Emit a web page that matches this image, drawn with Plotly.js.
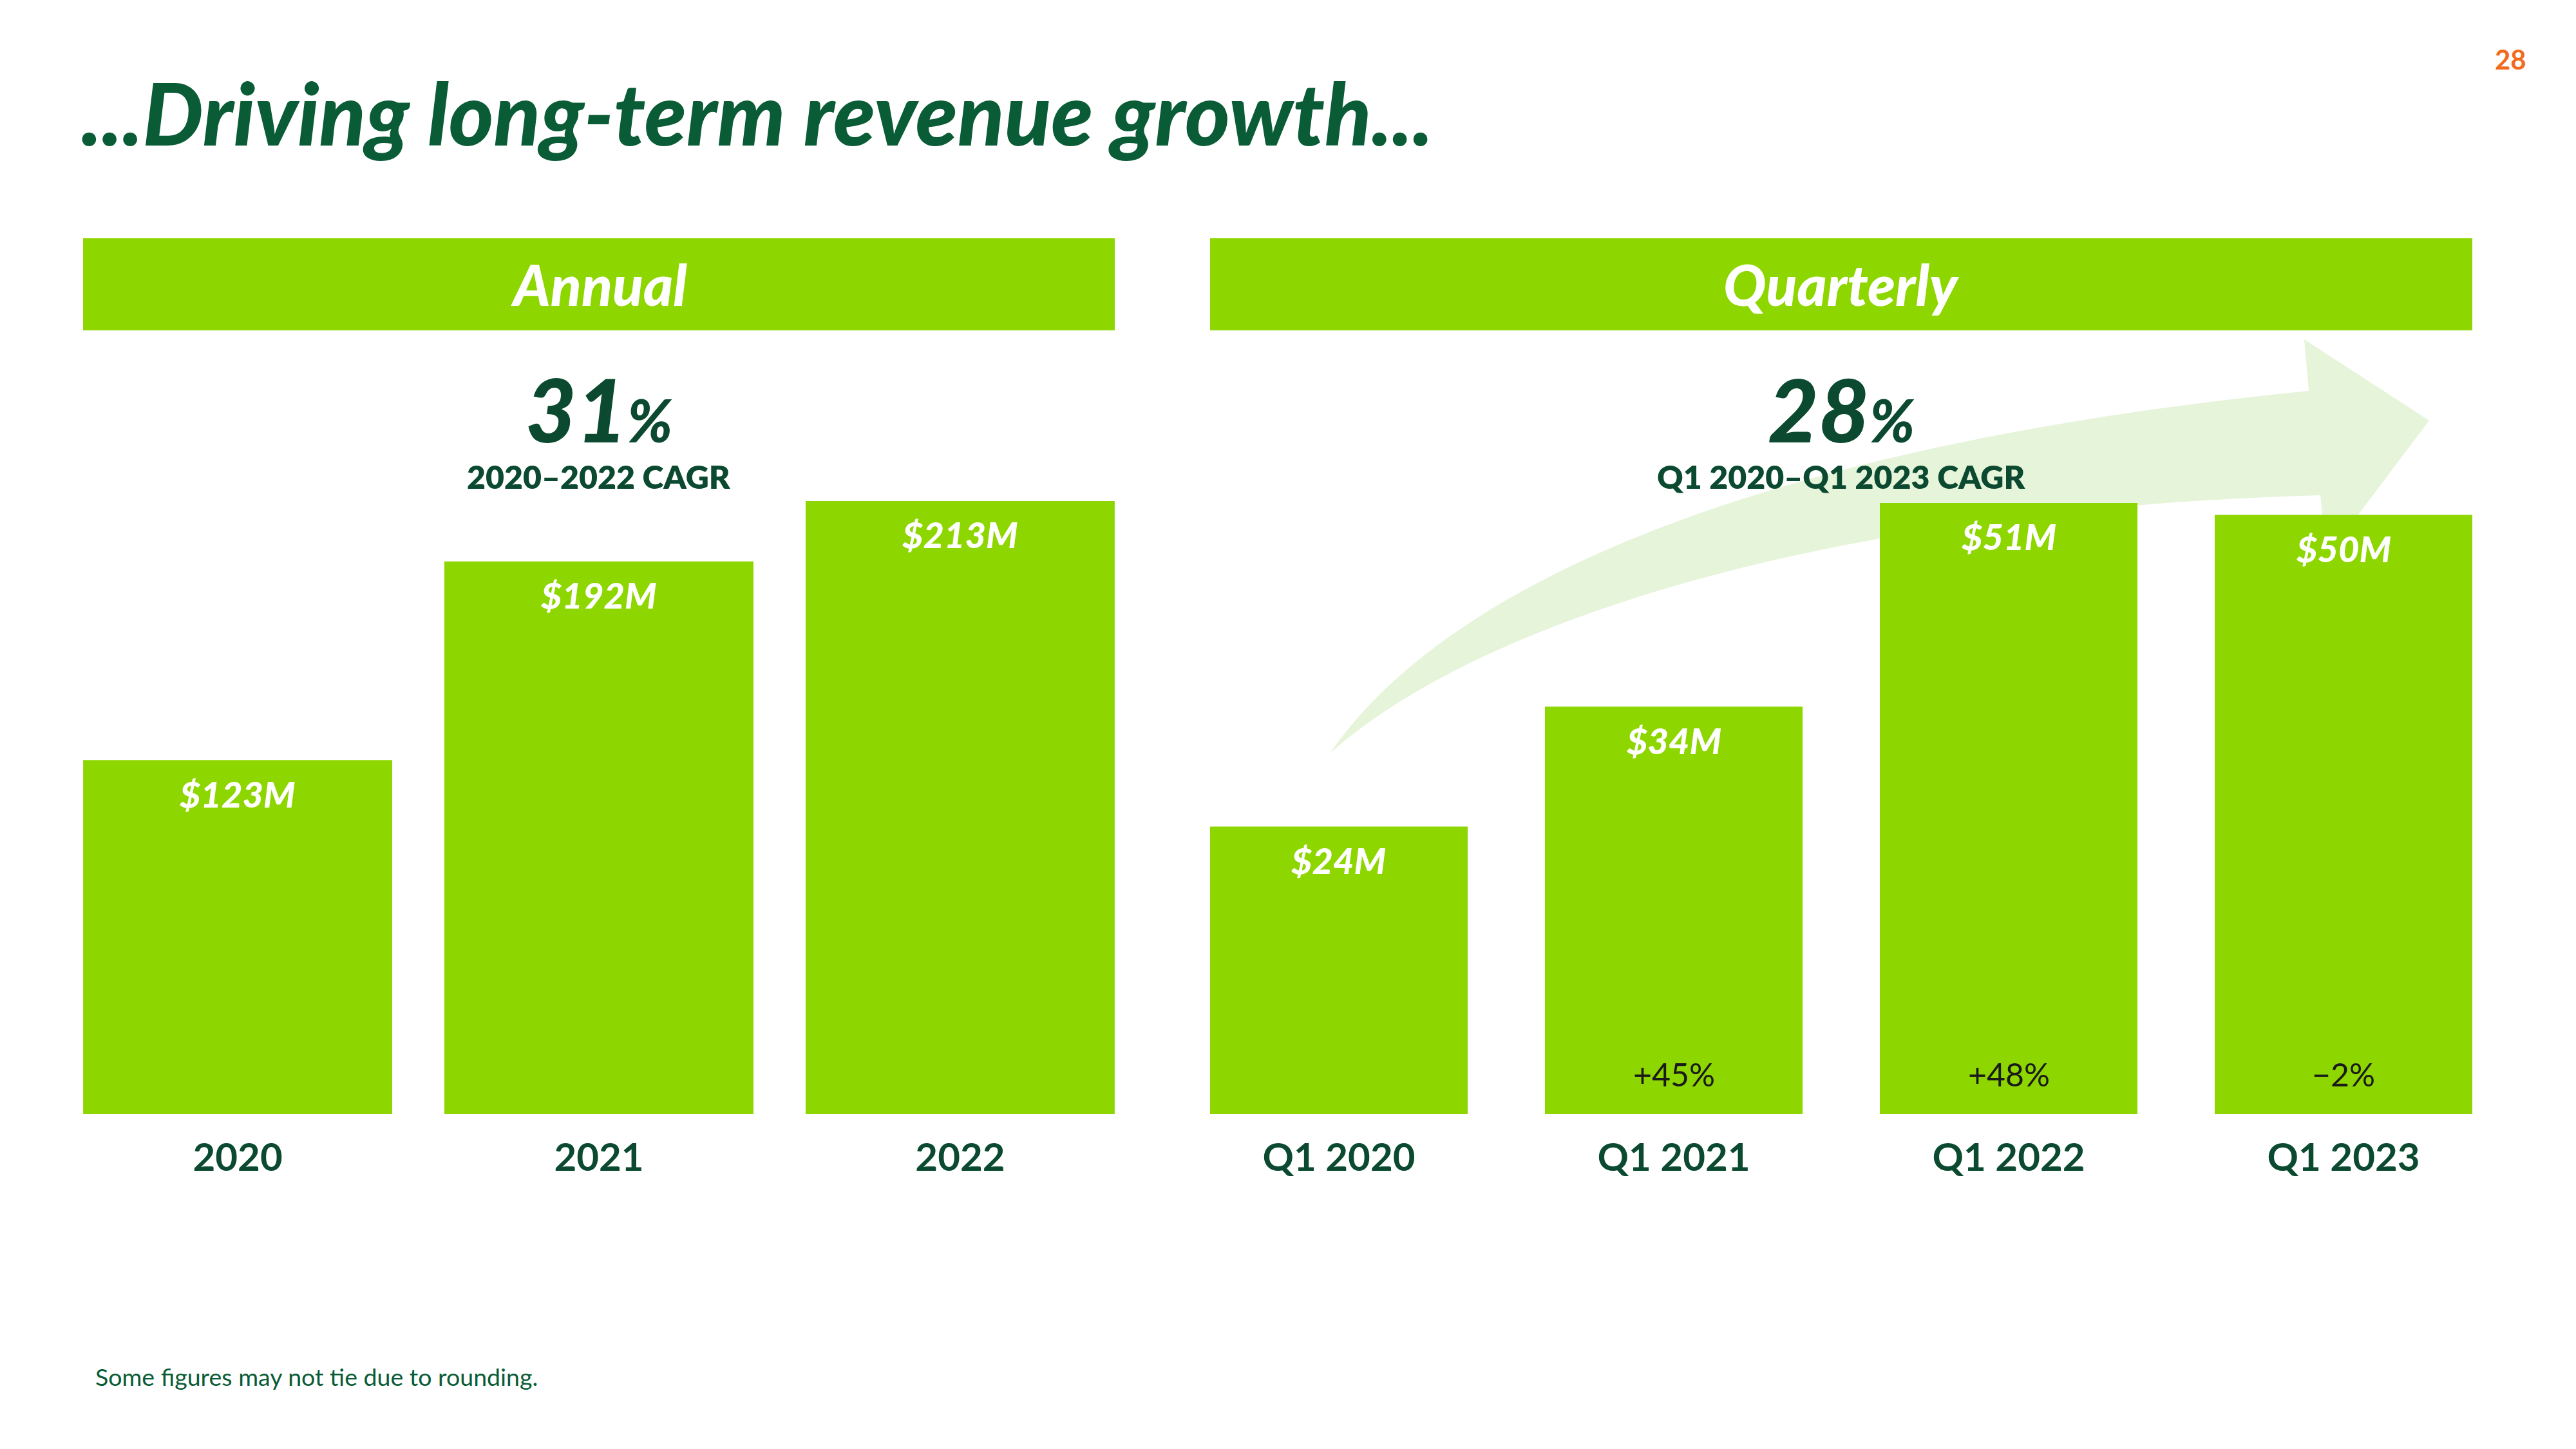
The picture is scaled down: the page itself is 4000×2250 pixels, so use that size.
<!DOCTYPE html>
<html>
<head>
<meta charset="utf-8">
<script src="https://cdn.plot.ly/plotly-3.0.1.min.js"></script>
<style>
  html, body { margin: 0; padding: 0; background: #ffffff; }
  #chart { width: 4000px; height: 2250px; }
</style>
</head>
<body>
<div id="chart"></div>
<script>
// ---- Data ----
const annualCategories = ['2020', '2021', '2022'];
const annualValues = [123, 192, 213];
const annualLabels = ['$123M', '$192M', '$213M'];

const quarterCategories = ['Q1 2020', 'Q1 2021', 'Q1 2022', 'Q1 2023'];
const quarterValues = [24, 34, 51, 50];
const quarterLabels = ['$24M', '$34M', '$51M', '$50M'];
const quarterGrowth = ['', '+45%', '+48%', '\u22122%'];

const annualCagr = '31';
const annualCagrLabel = '2020\u20132022 CAGR';
const quarterCagr = '28';
const quarterCagrLabel = 'Q1 2020\u2013Q1 2023 CAGR';

const titleText = '...Driving long-term revenue growth...';
const pageNumber = '28';
const footnote = 'Some figures may not tie due to rounding.';

// ---- Styling ----
const W = 4000, H = 2250;
const px = x => x / W;
const py = y => 1 - y / H;
const BAR = '#8ed600';
const DARK = '#0b4a30';
const TITLEGREEN = '#0a5c36';
const ARROW = '#e6f4da';
const FONT = 'Lato, "Open Sans", sans-serif';

const yDomain = [py(1730), py(778)];

const traces = [
  {
    type: 'bar', x: annualCategories, y: annualValues,
    xaxis: 'x', yaxis: 'y', width: 480 / 561,
    marker: { color: BAR, line: { width: 0 } },
    hoverinfo: 'skip', showlegend: false
  },
  {
    type: 'bar', x: quarterCategories, y: quarterValues,
    xaxis: 'x2', yaxis: 'y2', width: 400 / 520,
    marker: { color: BAR, line: { width: 0 } },
    hoverinfo: 'skip', showlegend: false
  }
];

const annotations = [];
// value labels inside bar tops (x given as category index)
annualCategories.forEach((c, i) => annotations.push({
  xref: 'x', yref: 'y', x: i, y: annualValues[i], yshift: -52,
  text: annualLabels[i], showarrow: false, xanchor: 'center', yanchor: 'middle',
  font: { family: FONT, size: 56, color: '#ffffff', weight: 900, style: 'italic' }
}));
quarterCategories.forEach((c, i) => {
  annotations.push({
    xref: 'x2', yref: 'y2', x: i, y: quarterValues[i], yshift: -52,
    text: quarterLabels[i], showarrow: false, xanchor: 'center', yanchor: 'middle',
    font: { family: FONT, size: 56, color: '#ffffff', weight: 900, style: 'italic' }
  });
  if (quarterGrowth[i]) annotations.push({
    xref: 'x2', yref: 'y2', x: i, y: 0, yshift: 62,
    text: quarterGrowth[i], showarrow: false, xanchor: 'center', yanchor: 'middle',
    font: { family: FONT, size: 50, color: '#1a1a1a' }
  });
});

// Title, page number, footnote
annotations.push({
  xref: 'paper', yref: 'paper', x: px(124), y: py(175), xanchor: 'left', yanchor: 'middle',
  text: titleText, showarrow: false,
  font: { family: FONT, size: 133, color: TITLEGREEN, weight: 900, style: 'italic' }
});
annotations.push({
  xref: 'paper', yref: 'paper', x: px(3898), y: py(92), xanchor: 'center', yanchor: 'middle',
  text: pageNumber, showarrow: false,
  font: { family: FONT, size: 42, color: '#f26b1d', weight: 700 }
});
annotations.push({
  xref: 'paper', yref: 'paper', x: px(146), y: py(2137), xanchor: 'left', yanchor: 'middle',
  text: footnote, showarrow: false,
  font: { family: FONT, size: 37.5, color: TITLEGREEN }
});

// Headers text
annotations.push({
  xref: 'paper', yref: 'paper', x: px(930), y: py(441), xanchor: 'center', yanchor: 'middle',
  text: 'Annual', showarrow: false,
  font: { family: FONT, size: 88, color: '#ffffff', weight: 900, style: 'italic' }
});
annotations.push({
  xref: 'paper', yref: 'paper', x: px(2859), y: py(441), xanchor: 'center', yanchor: 'middle',
  text: 'Quarterly', showarrow: false,
  font: { family: FONT, size: 88, color: '#ffffff', weight: 900, style: 'italic' }
});

// CAGR
[[930, annualCagr, annualCagrLabel], [2859, quarterCagr, quarterCagrLabel]].forEach(([cx, v, lab]) => {
  annotations.push({
    xref: 'paper', yref: 'paper', x: px(cx), y: py(634), xanchor: 'center', yanchor: 'middle',
    text: v + '<span style="font-size:92px">%</span>', showarrow: false,
    font: { family: FONT, size: 136, color: DARK, weight: 900, style: 'italic' }
  });
  annotations.push({
    xref: 'paper', yref: 'paper', x: px(cx), y: py(740), xanchor: 'center', yanchor: 'middle',
    text: lab, showarrow: false,
    font: { family: FONT, size: 50, color: DARK, weight: 800 }
  });
});

// Decorative arrow path in pixel space -> paper space
function P(x, y) { return px(x).toFixed(5) + ',' + py(y).toFixed(5); }
const arrowPath =
  'M' + P(2065, 1170) +
  ' C' + P(2250, 900) + ' ' + P(2750, 690) + ' ' + P(3585, 607) +
  ' L' + P(3578, 527) +
  ' L' + P(3772, 653) +
  ' L' + P(3613, 864) +
  ' L' + P(3603, 769) +
  ' C' + P(2850, 790) + ' ' + P(2300, 960) + ' ' + P(2065, 1170) + ' Z';

const shapes = [
  { type: 'rect', xref: 'paper', yref: 'paper', x0: px(129), x1: px(1731), y0: py(513), y1: py(370),
    fillcolor: BAR, line: { width: 0 }, layer: 'below' },
  { type: 'rect', xref: 'paper', yref: 'paper', x0: px(1879), x1: px(3839), y0: py(513), y1: py(370),
    fillcolor: BAR, line: { width: 0 }, layer: 'below' },
  { type: 'path', xref: 'paper', yref: 'paper', path: arrowPath,
    fillcolor: ARROW, line: { width: 0 }, layer: 'below' }
];

const tickFont = { family: FONT, size: 60, color: DARK, weight: 700 };
const layout = {
  width: W, height: H, autosize: false,
  margin: { l: 0, r: 0, t: 0, b: 0, pad: 0 },
  paper_bgcolor: '#ffffff', plot_bgcolor: 'rgba(0,0,0,0)',
  showlegend: false,
  xaxis: {
    domain: [px(129), px(1731)], type: 'category', range: [-0.428, 2.428],
    showgrid: false, zeroline: false, showline: false, ticks: '',
    tickfont: tickFont, ticklabelstandoff: 27, fixedrange: true, anchor: 'y'
  },
  yaxis: { domain: yDomain, range: [0, 213], visible: false, fixedrange: true, anchor: 'x' },
  xaxis2: {
    domain: [px(1879), px(3839)], type: 'category', range: [-0.3846, 3.3846],
    showgrid: false, zeroline: false, showline: false, ticks: '',
    tickfont: tickFont, ticklabelstandoff: 27, fixedrange: true, anchor: 'y2'
  },
  yaxis2: { domain: yDomain, range: [0, 51.16], visible: false, fixedrange: true, anchor: 'x2' },
  shapes: shapes,
  annotations: annotations
};

Plotly.newPlot('chart', traces, layout, { staticPlot: true, displayModeBar: false });
</script>
</body>
</html>
